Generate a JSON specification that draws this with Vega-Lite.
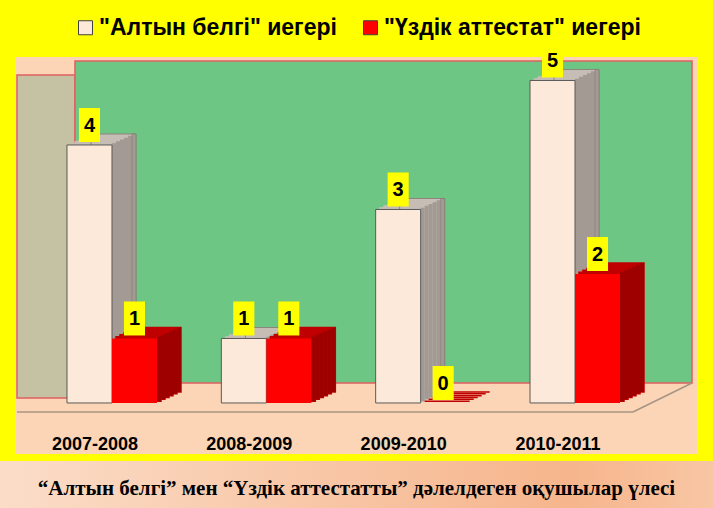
{
  "$schema": "https://vega.github.io/schema/vega-lite/v6.json",
  "background": "#FFFF00",
  "padding": 0,
  "spacing": 7,
  "center": true,
  "config": {
    "view": {"stroke": null},
    "axisX": {"ticks": false, "domain": false, "grid": false, "labelFont": "Liberation Sans", "labelFontWeight": "bold", "labelFontSize": 18, "labelColor": "#000000", "labelAngle": 0, "labelPadding": 1, "offset": -20, "labelOffset": -17, "labelBaseline": "top"},
    "legend": {
      "title": null, "orient": "none", "legendX": 58, "legendY": -57, "direction": "horizontal",
      "padding": 16, "fillColor": "rgba(255,255,0,0)", "strokeColor": null,
      "symbolType": "square", "symbolSize": 196, "symbolStrokeColor": "#404040", "symbolStrokeWidth": 1, "symbolOpacity": 1,
      "labelFont": "Liberation Sans", "labelFontWeight": "bold", "labelFontSize": 23, "labelColor": "#000000",
      "labelOffset": 2, "columnPadding": 22, "labelLimit": 400
    }
  },
  "datasets": {
    "bars": [
      {"year": "2007-2008", "series": "\"Алтын белгі\" иегері", "value": 4},
      {"year": "2007-2008", "series": "\"Үздік аттестат\" иегері", "value": 1},
      {"year": "2008-2009", "series": "\"Алтын белгі\" иегері", "value": 1},
      {"year": "2008-2009", "series": "\"Үздік аттестат\" иегері", "value": 1},
      {"year": "2009-2010", "series": "\"Алтын белгі\" иегері", "value": 3},
      {"year": "2009-2010", "series": "\"Үздік аттестат\" иегері", "value": 0},
      {"year": "2010-2011", "series": "\"Алтын белгі\" иегері", "value": 5},
      {"year": "2010-2011", "series": "\"Үздік аттестат\" иегері", "value": 2}
    ]
  },
  "vconcat": [
    {
      "width": 681,
      "height": 397,
      "view": {"fill": "#FBD5B5", "stroke": null},
      "resolve": {"scale": {"x": "independent"}, "axis": {"x": "independent"}},
      "layer": [
        {
          "data": {"values": [{}]},
          "mark": {"type": "rect", "fill": "#C4C2A2", "stroke": "#E06060", "strokeWidth": 1.5},
          "encoding": {
            "x": {"datum": 0.0015, "type": "quantitative", "scale": {"domain": [0, 1]}, "axis": null},
            "x2": {"datum": 0.0866},
            "y": {"datum": 5.085, "type": "quantitative", "scale": {"domain": [-0.791, 5.364], "nice": false}, "axis": null},
            "y2": {"datum": 0.078}
          }
        },
        {
          "data": {"values": [{}]},
          "mark": {"type": "rect", "fill": "#6DC684", "stroke": "#E06060", "strokeWidth": 1.5},
          "encoding": {
            "x": {"datum": 0.0866, "type": "quantitative", "scale": {"domain": [0, 1]}, "axis": null},
            "x2": {"datum": 0.9927},
            "y": {"datum": 5.302, "type": "quantitative", "scale": {"domain": [-0.791, 5.364], "nice": false}, "axis": null},
            "y2": {"datum": 0.31}
          }
        },
        {
          "data": {"values": [{}]},
          "mark": {"type": "rule", "color": "#A89484", "strokeWidth": 1.5},
          "encoding": {
            "x": {"datum": 0.0015, "type": "quantitative", "scale": {"domain": [0, 1]}, "axis": null},
            "x2": {"datum": 0.906},
            "y": {"datum": -0.14, "type": "quantitative", "scale": {"domain": [-0.791, 5.364], "nice": false}, "axis": null},
            "y2": {"datum": -0.14}
          }
        },
        {
          "data": {"values": [{}]},
          "mark": {"type": "rule", "color": "#A89484", "strokeWidth": 1.5},
          "encoding": {
            "x": {"datum": 0.906, "type": "quantitative", "scale": {"domain": [0, 1]}, "axis": null},
            "x2": {"datum": 0.9927},
            "y": {"datum": -0.14, "type": "quantitative", "scale": {"domain": [-0.791, 5.364], "nice": false}, "axis": null},
            "y2": {"datum": 0.31}
          }
        },
        {
          "data": {"name": "bars"},
          "encoding": {
            "x": {"field": "year", "type": "nominal", "title": null, "scale": {"domain": ["2007-2008", "2008-2009", "2009-2010", "2010-2011"], "range": [51, 604], "paddingInner": 0.417, "paddingOuter": 0}},
            "y": {"field": "value", "type": "quantitative", "scale": {"domain": [-0.791, 5.364], "nice": false}, "axis": null}
          },
          "layer": [
            {"transform": [{"filter": {"field": "series", "equal": "\"Алтын белгі\" иегері"}}], "mark": {"type": "bar", "width": 45, "xOffset": -18.5, "yOffset": -1.8, "fill": "#C6BDB5", "stroke": "#C6BDB5", "strokeWidth": 1}},
            {"transform": [{"filter": {"field": "series", "equal": "\"Алтын белгі\" иегері"}}], "mark": {"type": "bar", "width": 45, "xOffset": -14.5, "yOffset": -3.7, "fill": "#C6BDB5", "stroke": "#C6BDB5", "strokeWidth": 1}},
            {"transform": [{"filter": {"field": "series", "equal": "\"Алтын белгі\" иегері"}}], "mark": {"type": "bar", "width": 45, "xOffset": -10.5, "yOffset": -5.5, "fill": "#C6BDB5", "stroke": "#C6BDB5", "strokeWidth": 1}},
            {"transform": [{"filter": {"field": "series", "equal": "\"Алтын белгі\" иегері"}}], "mark": {"type": "bar", "width": 45, "xOffset": -6.5, "yOffset": -7.3, "fill": "#C6BDB5", "stroke": "#C6BDB5", "strokeWidth": 1}},
            {"transform": [{"filter": {"field": "series", "equal": "\"Алтын белгі\" иегері"}}], "mark": {"type": "bar", "width": 45, "xOffset": -2.5, "yOffset": -9.2, "fill": "#C6BDB5", "stroke": "#C6BDB5", "strokeWidth": 1}},
            {"transform": [{"filter": {"field": "series", "equal": "\"Алтын белгі\" иегері"}}], "mark": {"type": "bar", "width": 45, "xOffset": 1.5, "yOffset": -11, "fill": "#C6BDB5", "stroke": "#8C847E", "strokeWidth": 1}},
            {"transform": [{"filter": {"field": "series", "equal": "\"Алтын белгі\" иегері"}}], "mark": {"type": "bar", "width": 4, "xOffset": 2, "yOffset": -1.8, "fill": "#A39A93"}},
            {"transform": [{"filter": {"field": "series", "equal": "\"Алтын белгі\" иегері"}}], "mark": {"type": "bar", "width": 4, "xOffset": 6, "yOffset": -3.7, "fill": "#A39A93"}},
            {"transform": [{"filter": {"field": "series", "equal": "\"Алтын белгі\" иегері"}}], "mark": {"type": "bar", "width": 4, "xOffset": 10, "yOffset": -5.5, "fill": "#A39A93"}},
            {"transform": [{"filter": {"field": "series", "equal": "\"Алтын белгі\" иегері"}}], "mark": {"type": "bar", "width": 4, "xOffset": 14, "yOffset": -7.3, "fill": "#A39A93"}},
            {"transform": [{"filter": {"field": "series", "equal": "\"Алтын белгі\" иегері"}}], "mark": {"type": "bar", "width": 4, "xOffset": 18, "yOffset": -9.2, "fill": "#A39A93"}},
            {"transform": [{"filter": {"field": "series", "equal": "\"Алтын белгі\" иегері"}}], "mark": {"type": "bar", "width": 4, "xOffset": 22, "yOffset": -11, "fill": "#A39A93", "stroke": "#7A726C", "strokeWidth": 0.5}},
            {"transform": [{"filter": {"field": "series", "equal": "\"Үздік аттестат\" иегері"}}], "mark": {"type": "bar", "width": 45, "xOffset": 26.5, "yOffset": -1.8, "fill": "#C00000", "stroke": "#C00000", "strokeWidth": 1.5}},
            {"transform": [{"filter": {"field": "series", "equal": "\"Үздік аттестат\" иегері"}}], "mark": {"type": "bar", "width": 45, "xOffset": 30.5, "yOffset": -3.7, "fill": "#C00000", "stroke": "#C00000", "strokeWidth": 1.5}},
            {"transform": [{"filter": {"field": "series", "equal": "\"Үздік аттестат\" иегері"}}], "mark": {"type": "bar", "width": 45, "xOffset": 34.5, "yOffset": -5.5, "fill": "#C00000", "stroke": "#C00000", "strokeWidth": 1.5}},
            {"transform": [{"filter": {"field": "series", "equal": "\"Үздік аттестат\" иегері"}}], "mark": {"type": "bar", "width": 45, "xOffset": 38.5, "yOffset": -7.3, "fill": "#C00000", "stroke": "#C00000", "strokeWidth": 1.5}},
            {"transform": [{"filter": {"field": "series", "equal": "\"Үздік аттестат\" иегері"}}], "mark": {"type": "bar", "width": 45, "xOffset": 42.5, "yOffset": -9.2, "fill": "#C00000", "stroke": "#C00000", "strokeWidth": 1.5}},
            {"transform": [{"filter": {"field": "series", "equal": "\"Үздік аттестат\" иегері"}}], "mark": {"type": "bar", "width": 45, "xOffset": 46.5, "yOffset": -11, "fill": "#C00000", "stroke": "#C00000", "strokeWidth": 1.5}},
            {"transform": [{"filter": {"field": "series", "equal": "\"Үздік аттестат\" иегері"}}], "mark": {"type": "bar", "width": 4, "xOffset": 47, "yOffset": -1.8, "fill": "#9E0000"}},
            {"transform": [{"filter": {"field": "series", "equal": "\"Үздік аттестат\" иегері"}}], "mark": {"type": "bar", "width": 4, "xOffset": 51, "yOffset": -3.7, "fill": "#9E0000"}},
            {"transform": [{"filter": {"field": "series", "equal": "\"Үздік аттестат\" иегері"}}], "mark": {"type": "bar", "width": 4, "xOffset": 55, "yOffset": -5.5, "fill": "#9E0000"}},
            {"transform": [{"filter": {"field": "series", "equal": "\"Үздік аттестат\" иегері"}}], "mark": {"type": "bar", "width": 4, "xOffset": 59, "yOffset": -7.3, "fill": "#9E0000"}},
            {"transform": [{"filter": {"field": "series", "equal": "\"Үздік аттестат\" иегері"}}], "mark": {"type": "bar", "width": 4, "xOffset": 63, "yOffset": -9.2, "fill": "#9E0000"}},
            {"transform": [{"filter": {"field": "series", "equal": "\"Үздік аттестат\" иегері"}}], "mark": {"type": "bar", "width": 4, "xOffset": 67, "yOffset": -11, "fill": "#9E0000"}},
            {
              "transform": [{"filter": {"field": "series", "equal": "\"Алтын белгі\" иегері"}}],
              "mark": {"type": "bar", "width": 45, "xOffset": -22.5, "stroke": "#595959", "strokeWidth": 1, "opacity": 1},
              "encoding": {
                "color": {"field": "series", "type": "nominal", "scale": {"domain": ["\"Алтын белгі\" иегері", "\"Үздік аттестат\" иегері"], "range": ["#FDE9D9", "#FF0000"]}}
              }
            },
            {
              "transform": [{"filter": {"field": "series", "equal": "\"Үздік аттестат\" иегері"}}],
              "mark": {"type": "bar", "width": 45, "xOffset": 22.5, "opacity": 1},
              "encoding": {
                "color": {"field": "series", "type": "nominal", "scale": {"domain": ["\"Алтын белгі\" иегері", "\"Үздік аттестат\" иегері"], "range": ["#FDE9D9", "#FF0000"]}}
              }
            },
            {
              "transform": [{"filter": {"field": "series", "equal": "\"Алтын белгі\" иегері"}}],
              "mark": {"type": "point", "shape": "M-0.62,-1H0.62V1H-0.62Z", "size": 1156, "filled": true, "fill": "#FFFF00", "opacity": 1, "strokeWidth": 0, "xOffset": -22.5, "yOffset": -20}
            },
            {
              "transform": [{"filter": {"field": "series", "equal": "\"Үздік аттестат\" иегері"}}],
              "mark": {"type": "point", "shape": "M-0.62,-1H0.62V1H-0.62Z", "size": 1156, "filled": true, "fill": "#FFFF00", "opacity": 1, "strokeWidth": 0, "xOffset": 22.5, "yOffset": -20}
            },
            {
              "transform": [{"filter": {"field": "series", "equal": "\"Алтын белгі\" иегері"}}],
              "mark": {"type": "text", "font": "Liberation Sans", "fontWeight": "bold", "fontSize": 20, "xOffset": -22.5, "yOffset": -19, "baseline": "middle", "align": "center", "color": "#000000"},
              "encoding": {"text": {"field": "value", "type": "quantitative"}}
            },
            {
              "transform": [{"filter": {"field": "series", "equal": "\"Үздік аттестат\" иегері"}}],
              "mark": {"type": "text", "font": "Liberation Sans", "fontWeight": "bold", "fontSize": 20, "xOffset": 22.5, "yOffset": -19, "baseline": "middle", "align": "center", "color": "#000000"},
              "encoding": {"text": {"field": "value", "type": "quantitative"}}
            }
          ]
        }
      ]
    },
    {
      "width": 713,
      "height": 47,
      "view": {"fill": {"gradient": "linear", "x1": 0, "y1": 0, "x2": 1, "y2": 0, "stops": [{"offset": 0, "color": "#FBDDC8"}, {"offset": 0.8, "color": "#F6B58C"}, {"offset": 1, "color": "#F8C6A4"}]}, "stroke": null},
      "data": {"values": [{"caption": "“Алтын белгі” мен “Үздік аттестатты” дәлелдеген оқушылар үлесі"}]},
      "mark": {"type": "text", "font": "Liberation Serif", "fontWeight": "bold", "fontSize": 21, "color": "#000000", "baseline": "middle", "align": "center", "dy": 4},
      "encoding": {"text": {"field": "caption", "type": "nominal"}}
    }
  ]
}
